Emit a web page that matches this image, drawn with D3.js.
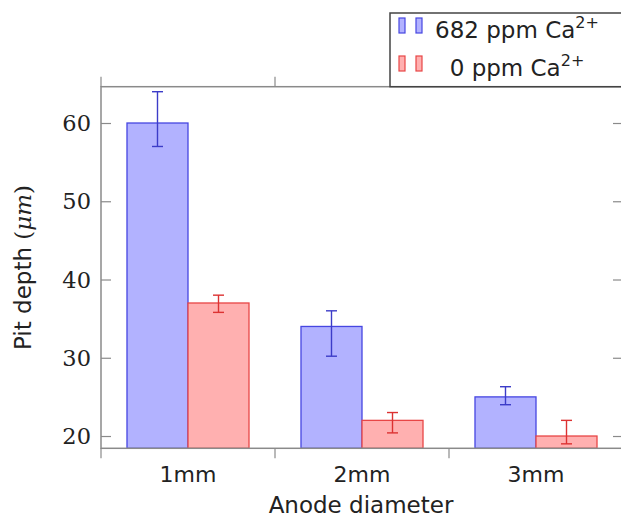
<!DOCTYPE html>
<html><head><meta charset="utf-8">
<script src="https://cdn.jsdelivr.net/npm/d3@7"></script>
<style>body{margin:0;background:#fff}svg{display:block}</style>
</head><body>
<svg id="c" width="621" height="520"></svg>
<script>
const categories = ["1mm", "2mm", "3mm"];
const seriesNames = ["682 ppm", "0 ppm"];
const ca682 = [60, 34, 25];
const ca682Hi = [64, 36, 26.3];
const ca682Lo = [57, 30.2, 24];
const ca0 = [37, 22, 20];
const ca0Hi = [38, 23, 22];
const ca0Lo = [35.8, 20.4, 19];
const yTicks = [20, 30, 40, 50, 60];

const svg = d3.select("#c");
const L = 101, R = 623, T = 86.7, B = 448.3;
const axisCol = "#8a8a8a";
const styles = [
  {fill: "rgb(178,178,255)", stroke: "rgb(70,70,225)", err: "rgb(60,60,200)"},
  {fill: "rgb(255,176,176)", stroke: "rgb(232,70,70)", err: "rgb(220,50,50)"}
];

const x = d3.scaleBand().domain(categories).range([L, R]).paddingInner(0).paddingOuter(0);
const xs = d3.scaleBand().domain(seriesNames).range([0, x.bandwidth()]).paddingInner(0).paddingOuter(0.426);
const y = d3.scaleLinear().domain([18.43, 64.64]).range([B, T]);

const data = categories.map((c, i) => [
  {c, s: seriesNames[0], v: ca682[i], hi: ca682Hi[i], lo: ca682Lo[i], st: styles[0]},
  {c, s: seriesNames[1], v: ca0[i], hi: ca0Hi[i], lo: ca0Lo[i], st: styles[1]}
]).flat();

// bars
svg.append("g").selectAll("rect").data(data).join("rect")
  .attr("x", d => x(d.c) + xs(d.s))
  .attr("width", xs.bandwidth())
  .attr("y", d => y(d.v))
  .attr("height", d => B - y(d.v))
  .attr("fill", d => d.st.fill)
  .attr("stroke", d => d.st.stroke)
  .attr("stroke-width", 1.3);

// error bars
const eg = svg.append("g").selectAll("g").data(data).join("g")
  .attr("stroke", d => d.st.err).attr("stroke-width", 1.4);
const cx = d => x(d.c) + xs(d.s) + xs.bandwidth() / 2;
eg.append("line").attr("x1", cx).attr("x2", cx).attr("y1", d => y(d.hi)).attr("y2", d => y(d.lo));
eg.append("line").attr("x1", d => cx(d) - 5.5).attr("x2", d => cx(d) + 5.5).attr("y1", d => y(d.hi)).attr("y2", d => y(d.hi));
eg.append("line").attr("x1", d => cx(d) - 5.5).attr("x2", d => cx(d) + 5.5).attr("y1", d => y(d.lo)).attr("y2", d => y(d.lo));

// frame
svg.append("rect").attr("x", L).attr("y", T).attr("width", R - L).attr("height", B - T)
  .attr("fill", "none").attr("stroke", axisCol).attr("stroke-width", 1.5);

// y axis left & right (inward ticks)
const yl = svg.append("g").attr("transform", `translate(${L},0)`)
  .call(d3.axisRight(y).tickValues(yTicks).tickSize(10).tickFormat(""));
yl.select(".domain").remove();
yl.selectAll("line").attr("stroke", axisCol).attr("stroke-width", 1.2);
const yr = svg.append("g").attr("transform", `translate(${R},0)`)
  .call(d3.axisLeft(y).tickValues(yTicks).tickSize(10).tickFormat(""));
yr.select(".domain").remove();
yr.selectAll("line").attr("stroke", axisCol).attr("stroke-width", 1.2);

// y tick labels
svg.append("g").selectAll("text").data(yTicks).join("text")
  .attr("x", L - 10).attr("y", d => y(d)).attr("dy", "0.36em")
  .attr("text-anchor", "end")
  .attr("font-family", "DejaVu Serif").attr("font-size", 22.5).attr("fill", "#222")
  .text(d => d);

// x boundary ticks (outward, top & bottom)
const bounds = categories.map(c => x(c)).concat([x(categories[categories.length - 1]) + x.step()]);
const xt = svg.append("g").attr("stroke", axisCol).attr("stroke-width", 1.2);
xt.selectAll(".b").data(bounds).join("line").attr("x1", d => d).attr("x2", d => d).attr("y1", B).attr("y2", B + 10);
xt.selectAll(".t").data(bounds).join("line").attr("x1", d => d).attr("x2", d => d).attr("y1", T).attr("y2", T - 10);

// x tick labels
svg.append("g").selectAll("text").data(categories).join("text")
  .attr("x", d => x(d) + x.bandwidth() / 2).attr("y", 482)
  .attr("text-anchor", "middle")
  .attr("font-family", "DejaVu Sans").attr("font-size", 22).attr("fill", "#222")
  .text(d => d);

// axis titles
svg.append("text").attr("x", 361).attr("y", 513)
  .attr("text-anchor", "middle").attr("font-family", "DejaVu Sans").attr("font-size", 23).attr("fill", "#222")
  .text("Anode diameter");
const yt = svg.append("text").attr("transform", `translate(31,${(T + B) / 2}) rotate(-90)`)
  .attr("text-anchor", "middle").attr("font-family", "DejaVu Sans").attr("font-size", 23).attr("fill", "#222");
yt.append("tspan").text("Pit depth ");
yt.append("tspan").attr("font-family", "DejaVu Serif").text("(");
yt.append("tspan").attr("font-family", "DejaVu Serif").attr("font-style", "italic").text("μm");
yt.append("tspan").attr("font-family", "DejaVu Serif").text(")");

// legend
const lg = svg.append("g");
lg.append("rect").attr("x", 390).attr("y", 13).attr("width", 260).attr("height", T - 13)
  .attr("fill", "#fff").attr("stroke", "#444").attr("stroke-width", 1.5);
const rows = [
  {label: "682 ppm Ca", st: styles[0], cy: 26},
  {label: "0 ppm Ca", st: styles[1], cy: 64}
];
rows.forEach(r => {
  [399, 416].forEach(xx => {
    lg.append("rect").attr("x", xx).attr("y", r.cy - 8).attr("width", 6).attr("height", 15)
      .attr("fill", r.st.fill).attr("stroke", r.st.stroke).attr("stroke-width", 1.2);
  });
  const t = lg.append("text").attr("x", 517).attr("y", r.cy + 12).attr("text-anchor", "middle")
    .attr("font-family", "DejaVu Sans").attr("font-size", 23).attr("fill", "#222");
  t.append("tspan").text(r.label);
  t.append("tspan").attr("font-size", 16).attr("dy", -10).text("2+");
});
</script>
</body></html>
